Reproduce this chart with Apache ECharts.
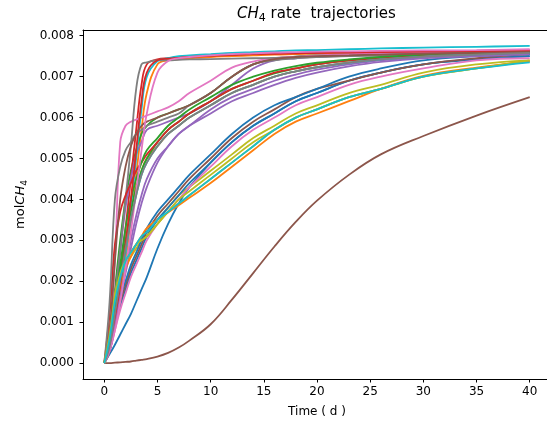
<!DOCTYPE html>
<html>
<head>
<meta charset="utf-8">
<script src="https://cdn.jsdelivr.net/npm/echarts@6/dist/echarts.min.js"></script>
<style>
  html, body { margin: 0; padding: 0; background: #fff; }
  #main { width: 547px; height: 426px; }
</style>
</head>
<body>
<div id="main"></div>
<script>
// sample times (days)
const time = [0, 0.5, 1, 1.5, 2, 2.5, 3, 3.5, 4, 5, 6, 7, 8, 10, 12, 14, 16, 18, 20, 23, 26, 30, 35, 40];

// CH4 trajectories (mol)
const traj01 = [0, 0.00022, 0.00045, 0.0007, 0.00095, 0.0012, 0.0015, 0.0018, 0.0021, 0.0028, 0.0034, 0.0039, 0.0043, 0.0049, 0.0054, 0.0058, 0.0061, 0.0064, 0.0066, 0.0069, 0.0071, 0.0073, 0.00742, 0.0075];
const traj02 = [0, 0.0003, 0.0009, 0.0016, 0.0025, 0.0035, 0.0046, 0.0057, 0.0066, 0.0073, 0.0074, 0.00743, 0.00745, 0.00748, 0.0075, 0.00752, 0.00754, 0.00755, 0.00756, 0.00758, 0.00759, 0.0076, 0.00761, 0.00762];
const traj03 = [0, 0.0006, 0.0018, 0.0030, 0.0040, 0.0047, 0.0052, 0.0056, 0.0058, 0.0060, 0.0061, 0.0062, 0.0063, 0.0066, 0.0070, 0.0073, 0.00744, 0.00749, 0.00752, 0.00755, 0.00757, 0.00759, 0.0076, 0.00762];
const traj04 = [0, 0.0004, 0.0012, 0.0022, 0.0033, 0.0045, 0.0057, 0.0068, 0.0073, 0.00742, 0.00745, 0.00747, 0.00749, 0.00752, 0.00754, 0.00756, 0.00757, 0.00758, 0.00759, 0.0076, 0.00761, 0.00762, 0.00763, 0.00765];
const traj05 = [0, 0.0005, 0.0015, 0.0027, 0.0038, 0.0045, 0.0051, 0.0054, 0.0057, 0.0058, 0.0059, 0.0060, 0.0061, 0.0064, 0.0068, 0.0072, 0.0074, 0.00745, 0.00749, 0.00752, 0.00754, 0.00756, 0.00758, 0.0076];
const traj06 = [0, 0, 0.00001, 0.00002, 0.00003, 0.00004, 0.00006, 0.00008, 0.0001, 0.00016, 0.00025, 0.00038, 0.00055, 0.00095, 0.00155, 0.0022, 0.00285, 0.00345, 0.00397, 0.0046, 0.0051, 0.00555, 0.00605, 0.0065];
const traj07 = [0, 0.0006, 0.0025, 0.0054, 0.0058, 0.0059, 0.00595, 0.0060, 0.00605, 0.00615, 0.00625, 0.0064, 0.0066, 0.0069, 0.00722, 0.00737, 0.00745, 0.00749, 0.00752, 0.00755, 0.00757, 0.0076, 0.00762, 0.00765];
const traj08 = [0, 0.0005, 0.0016, 0.0028, 0.0040, 0.0053, 0.0067, 0.0073, 0.00735, 0.0074, 0.0074, 0.00741, 0.00742, 0.00743, 0.00744, 0.00745, 0.00746, 0.00747, 0.00748, 0.0075, 0.00751, 0.00752, 0.00754, 0.00755];
const traj09 = [0, 0.0008, 0.0017, 0.0022, 0.0025, 0.0027, 0.0029, 0.00305, 0.0032, 0.0035, 0.0038, 0.0041, 0.0043, 0.0047, 0.0051, 0.0055, 0.0058, 0.0061, 0.0063, 0.0066, 0.0068, 0.0071, 0.0073, 0.0074];
const traj10 = [0, 0.0003, 0.0009, 0.0017, 0.0027, 0.0038, 0.0050, 0.0062, 0.0070, 0.00738, 0.00745, 0.0075, 0.00752, 0.00755, 0.00758, 0.0076, 0.00762, 0.00764, 0.00765, 0.00767, 0.00769, 0.00771, 0.00773, 0.00775];
const traj11 = [0, 0.0004, 0.0009, 0.0014, 0.0018, 0.0022, 0.0025, 0.0028, 0.0031, 0.0035, 0.0038, 0.0041, 0.0044, 0.0049, 0.0054, 0.0058, 0.0061, 0.0064, 0.0066, 0.0069, 0.0071, 0.0073, 0.00743, 0.0075];
const traj12 = [0, 0.0003, 0.0010, 0.0019, 0.0028, 0.0036, 0.0042, 0.0047, 0.0050, 0.0053, 0.0056, 0.0058, 0.0060, 0.0063, 0.0066, 0.0068, 0.0070, 0.00713, 0.00723, 0.00735, 0.00743, 0.0075, 0.00755, 0.00758];
const traj13 = [0, 0.0004, 0.0012, 0.0021, 0.0030, 0.0037, 0.0043, 0.0047, 0.0050, 0.0054, 0.0057, 0.0059, 0.0061, 0.0064, 0.0067, 0.0069, 0.00708, 0.0072, 0.0073, 0.0074, 0.00746, 0.00752, 0.00756, 0.0076];
const traj14 = [0, 0.0012, 0.0029, 0.0037, 0.0041, 0.0044, 0.0047, 0.0049, 0.0051, 0.0054, 0.0057, 0.0059, 0.0061, 0.0064, 0.0067, 0.0069, 0.0071, 0.0072, 0.0073, 0.0074, 0.00746, 0.00752, 0.00757, 0.0076];
const traj15 = [0, 0.0003, 0.0009, 0.0016, 0.0022, 0.0028, 0.0034, 0.0039, 0.0043, 0.0049, 0.0053, 0.0056, 0.0058, 0.0062, 0.0065, 0.0067, 0.0069, 0.00705, 0.00717, 0.0073, 0.0074, 0.00748, 0.00753, 0.00757];
const traj16 = [0, 0.0004, 0.0010, 0.0015, 0.0019, 0.0023, 0.0026, 0.0029, 0.0032, 0.0036, 0.0039, 0.0042, 0.0045, 0.0050, 0.0055, 0.0059, 0.0062, 0.0065, 0.0067, 0.0069, 0.0071, 0.0073, 0.00745, 0.00755];
const traj17 = [0, 0.0003, 0.0008, 0.0013, 0.0017, 0.0021, 0.0024, 0.0027, 0.0030, 0.0034, 0.0037, 0.0040, 0.0043, 0.0048, 0.0053, 0.0057, 0.0060, 0.0063, 0.0065, 0.0068, 0.0070, 0.0072, 0.0074, 0.00745];
const traj18 = [0, 0.0015, 0.0040, 0.0048, 0.0052, 0.0054, 0.0056, 0.0057, 0.0058, 0.0059, 0.0060, 0.0061, 0.0063, 0.0066, 0.0070, 0.0073, 0.0074, 0.00745, 0.00748, 0.00751, 0.00753, 0.00755, 0.00757, 0.00759];
const traj19 = [0, 0.0007, 0.0016, 0.0021, 0.0024, 0.0026, 0.0028, 0.0030, 0.0031, 0.0034, 0.0037, 0.0040, 0.0042, 0.0046, 0.0050, 0.0054, 0.0057, 0.0060, 0.0062, 0.0065, 0.0067, 0.0070, 0.0072, 0.00738];
const traj20 = [0, 0.0003, 0.0010, 0.0018, 0.0027, 0.0035, 0.0041, 0.0046, 0.0049, 0.0053, 0.0056, 0.0058, 0.0060, 0.0063, 0.0066, 0.0068, 0.0070, 0.00713, 0.00723, 0.00734, 0.00742, 0.00749, 0.00754, 0.00757];
const traj21 = [0, 0.0005, 0.0011, 0.0016, 0.0020, 0.0024, 0.0027, 0.0030, 0.0033, 0.0037, 0.0040, 0.0043, 0.0046, 0.0051, 0.0056, 0.0060, 0.0063, 0.0065, 0.0067, 0.0070, 0.0072, 0.0074, 0.0075, 0.00755];
const traj22 = [0, 0.0005, 0.0012, 0.0018, 0.0023, 0.0026, 0.0029, 0.0031, 0.0033, 0.0035, 0.00368, 0.00386, 0.00404, 0.0044, 0.0048, 0.0052, 0.0056, 0.0059, 0.0061, 0.0064, 0.0067, 0.00702, 0.00722, 0.00737];
const traj23 = [0, 0.0005, 0.0014, 0.0024, 0.0033, 0.0040, 0.0045, 0.0049, 0.0052, 0.0055, 0.0058, 0.0060, 0.0062, 0.0065, 0.0068, 0.0070, 0.00715, 0.00726, 0.00734, 0.00742, 0.00748, 0.00754, 0.00758, 0.00762];
const traj24 = [0, 0.0003, 0.0010, 0.0019, 0.0029, 0.0040, 0.0052, 0.0064, 0.0071, 0.0074, 0.00744, 0.00746, 0.00748, 0.00751, 0.00753, 0.00755, 0.00756, 0.00757, 0.00758, 0.00759, 0.0076, 0.00761, 0.00762, 0.00763];
const traj25 = [0, 0.0003, 0.0009, 0.0016, 0.0023, 0.0030, 0.0036, 0.0041, 0.0045, 0.0050, 0.0053, 0.0056, 0.0058, 0.0061, 0.0064, 0.0066, 0.0068, 0.00697, 0.0071, 0.00725, 0.00736, 0.00745, 0.0075, 0.00755];
const traj26 = [0, 0.0008, 0.0025, 0.0040, 0.0048, 0.0053, 0.0056, 0.0058, 0.0059, 0.0060, 0.0061, 0.0062, 0.0063, 0.0066, 0.0070, 0.0073, 0.00743, 0.00748, 0.0075, 0.00752, 0.00754, 0.00756, 0.00758, 0.0076];
const traj27 = [0, 0.0003, 0.0008, 0.0015, 0.0023, 0.0032, 0.0042, 0.0052, 0.0061, 0.0071, 0.00738, 0.00745, 0.00748, 0.00752, 0.00755, 0.00757, 0.00759, 0.0076, 0.00761, 0.00762, 0.00763, 0.00764, 0.00765, 0.00767];
const traj28 = [0, 0.0004, 0.0012, 0.0020, 0.0028, 0.0035, 0.0041, 0.0046, 0.0049, 0.0053, 0.0056, 0.0058, 0.0060, 0.0063, 0.0066, 0.0068, 0.0070, 0.00713, 0.00723, 0.00734, 0.00742, 0.00749, 0.00754, 0.00758];
const traj29 = [0, 0.0007, 0.0016, 0.0022, 0.0025, 0.0027, 0.0029, 0.0030, 0.0031, 0.0034, 0.0037, 0.0039, 0.0041, 0.0045, 0.0049, 0.0053, 0.0057, 0.0060, 0.0062, 0.0065, 0.0067, 0.0070, 0.0072, 0.0074];
const traj30 = [0, 0.0006, 0.0015, 0.0021, 0.0025, 0.0027, 0.0029, 0.0031, 0.0032, 0.0035, 0.0037, 0.0039, 0.0041, 0.0045, 0.0049, 0.0053, 0.0057, 0.0060, 0.0062, 0.0065, 0.0067, 0.0070, 0.0072, 0.00735];

const trajectories = [
  traj01, traj02, traj03, traj04, traj05, traj06, traj07, traj08, traj09, traj10,
  traj11, traj12, traj13, traj14, traj15, traj16, traj17, traj18, traj19, traj20,
  traj21, traj22, traj23, traj24, traj25, traj26, traj27, traj28, traj29, traj30
];

const xTicks = [0, 5, 10, 15, 20, 25, 30, 35, 40];
const yTicks = [0, 0.001, 0.002, 0.003, 0.004, 0.005, 0.006, 0.007, 0.008];

// matplotlib default colour cycle
const tab10 = ['#1f77b4', '#ff7f0e', '#2ca02c', '#d62728', '#9467bd',
               '#8c564b', '#e377c2', '#7f7f7f', '#bcbd22', '#17becf'];

const font = 'DejaVu Sans';

const chart = echarts.init(document.getElementById('main'));

chart.setOption({
  animation: false,
  color: tab10,
  title: {
    text: '{i|CH}{s|4}{n| rate  trajectories}',
    left: 232,
    top: 0,
    textStyle: {
      fontFamily: font,
      fontWeight: 'normal',
      color: '#000',
      rich: {
        i: { fontFamily: font, fontStyle: 'italic', fontSize: 15, color: '#000', lineHeight: 19 },
        s: { fontFamily: font, fontSize: 11, color: '#000', lineHeight: 11, verticalAlign: 'bottom' },
        n: { fontFamily: font, fontSize: 15, color: '#000', lineHeight: 19 }
      }
    }
  },
  grid: {
    left: 83,
    top: 30,
    width: 468,
    height: 349,
    containLabel: false,
    outerBoundsMode: 'none'
  },
  xAxis: [{
    type: 'value',
    min: -2,
    max: 42,
    name: 'Time ( d )',
    nameLocation: 'middle',
    nameGap: 27,
    nameTextStyle: { fontFamily: font, fontSize: 12, color: '#000' },
    axisLine: { show: true, onZero: false, lineStyle: { color: '#000', width: 1 } },
    axisTick: { show: true, length: 3.5, customValues: xTicks, lineStyle: { color: '#000' } },
    axisLabel: { customValues: xTicks, margin: 7, fontFamily: font, fontSize: 12, color: '#000' },
    splitLine: { show: false }
  }, {
    // top spine only
    type: 'value',
    position: 'top',
    min: -2,
    max: 42,
    axisLine: { show: true, onZero: false, lineStyle: { color: '#000', width: 1 } },
    axisTick: { show: false },
    axisLabel: { show: false },
    splitLine: { show: false }
  }],
  yAxis: {
    type: 'value',
    min: -0.000388,
    max: 0.00814,
    name: '{n|mol}{i|CH}{s|4}',
    nameLocation: 'middle',
    nameRotate: 90,
    nameGap: 45,
    nameTextStyle: {
      fontFamily: font,
      color: '#000',
      rich: {
        n: { fontFamily: font, fontSize: 13, color: '#000', lineHeight: 17 },
        i: { fontFamily: font, fontStyle: 'italic', fontSize: 13, color: '#000', lineHeight: 17 },
        s: { fontFamily: font, fontSize: 9, color: '#000', lineHeight: 9, verticalAlign: 'bottom' }
      }
    },
    axisLine: { show: true, onZero: false, lineStyle: { color: '#000', width: 1 } },
    axisTick: { show: true, length: 3.5, customValues: yTicks, lineStyle: { color: '#000' } },
    axisLabel: {
      customValues: yTicks,
      margin: 9,
      fontFamily: font,
      fontSize: 12,
      color: '#000',
      formatter: v => v.toFixed(3)
    },
    splitLine: { show: false }
  },
  series: trajectories.map(vals => ({
    type: 'line',
    showSymbol: false,
    symbol: 'none',
    smooth: 0.4,
    lineStyle: { width: 1.8 },
    data: time.map((t, i) => [t, vals[i]])
  }))
});
</script>
</body>
</html>
